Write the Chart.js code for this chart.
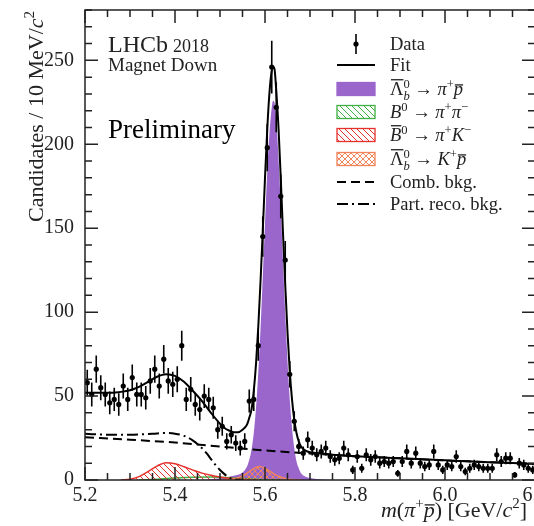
<!DOCTYPE html>
<html>
<head>
<meta charset="utf-8">
<script src="https://cdn.jsdelivr.net/npm/chart.js@4.4.1/dist/chart.umd.min.js"></script>
<style>
html, body { margin: 0; padding: 0; overflow: hidden; background: #fff; width: 534px; height: 526px; }
canvas { display: block; }
</style>
</head>
<body>
<canvas id="myChart" width="550" height="526"></canvas>
<script>
// bins de 10 MeV entre 5.2 e 6.2 GeV
var massBins = [];
for (var b = 0; b < 100; b++) massBins.push(Math.round((5.205 + 0.01 * b) * 1000) / 1000);

// contagens
var counts = [58, 51, 66, 55, 51, 46, 48, 45, 56, 48,
              61, 51, 51, 49, 59, 66, 56, 72, 59, 57,
              60, 80, 48, 54, 45, 42, 50, 48, 43, 30,
              32, 23, 27, 22, 19, 23, 47, 48, 80, 145,
              198, 246, 222, 169, 131, 63, 35, 20, 16, 24,
              19, 15, 17, 19, 14, 12, 13, 19, 15, 6,
              14, 7, 15, 12, 14, 10, 11, 10, 11, 4,
              11, 17, 10, 16, 10, 8, 9, 17, 9, 6,
              9, 8, 14, 8, 5, 7, 9, 8, 7, 7,
              7, 15, 11, 13, 13, 3, 10, 9, 7, 6];

// curva do fit total
var fitX = [5.20, 5.22, 5.24, 5.26, 5.28, 5.30, 5.32, 5.34, 5.36, 5.38, 5.40, 5.42, 5.44, 5.46, 5.48, 5.50, 5.51, 5.52, 5.53, 5.54, 5.55, 5.56, 5.565, 5.57, 5.575, 5.58, 5.585, 5.59, 5.595, 5.60, 5.605, 5.61, 5.615, 5.618, 5.621, 5.625, 5.63, 5.635, 5.64, 5.645, 5.65, 5.655, 5.66, 5.665, 5.67, 5.675, 5.68, 5.69, 5.70, 5.72, 5.75, 5.80, 5.85, 5.90, 5.95, 6.00, 6.05, 6.10, 6.15, 6.20];
var fitY = [52, 52, 52, 52, 52.5, 53.5, 55.5, 58.5, 61.5, 63, 62, 58.5, 53, 47, 40, 33.5, 31, 29.5, 28.5, 28.5, 30, 33, 37, 42, 53, 69, 91, 118, 148, 180, 209, 231, 244, 246, 245, 232, 210, 180, 147, 116, 88, 65, 48, 36, 28, 23, 20, 17.5, 16.5, 16, 15.1, 14.2, 13.5, 12.9, 12.3, 11.7, 11.1, 10.6, 10.1, 9.6];

// sinal Lambda_b -> pi p
var sigX = [5.46, 5.50, 5.53, 5.55, 5.56, 5.565, 5.57, 5.575, 5.58, 5.585, 5.59, 5.595, 5.60, 5.605, 5.61, 5.615, 5.618, 5.621, 5.625, 5.63, 5.635, 5.64, 5.645, 5.65, 5.655, 5.66, 5.665, 5.67, 5.675, 5.68, 5.69, 5.70, 5.72, 5.75];
var sigY = [0, 1, 2.5, 4.5, 8, 12, 18, 28, 43, 64, 90, 121, 153, 184, 207, 222, 226, 225, 214, 192, 163, 130, 99, 71, 48, 31, 19, 11, 7, 4, 2, 1.2, 0.5, 0];

// B0 -> pi pi
var pipiX = [5.32, 5.36, 5.40, 5.44, 5.48, 5.52, 5.56, 5.60, 5.64];
var pipiY = [0, 0.5, 1.2, 1.7, 1.8, 1.4, 0.7, 0.2, 0];

// B0bar -> pi K
var piKX = [5.28, 5.30, 5.32, 5.34, 5.36, 5.38, 5.40, 5.42, 5.44, 5.46, 5.48, 5.50, 5.52, 5.55, 5.58];
var piKY = [0, 0.4, 2, 5, 8.3, 10.3, 9.7, 7.9, 5.9, 4.1, 2.8, 1.8, 1.1, 0.5, 0];

// Lambda_b -> K p
var KpX = [5.50, 5.53, 5.55, 5.565, 5.575, 5.587, 5.60, 5.615, 5.63, 5.65, 5.68];
var KpY = [0, 0.6, 2.5, 5, 6.8, 8, 7, 4.5, 2.2, 0.6, 0];

// fundo combinatorio
var combX = [5.2, 5.3, 5.4, 5.5, 5.6, 5.7, 5.8, 5.9, 6.0, 6.1, 6.2];
var combY = [25.5, 24, 22.3, 19.9, 17.6, 15.8, 14.2, 12.9, 11.7, 10.6, 9.6];

// fundo parcialmente reconstruido
var partX = [5.2, 5.25, 5.3, 5.35, 5.38, 5.4, 5.42, 5.44, 5.46, 5.47, 5.48, 5.49, 5.50, 5.51, 5.52, 5.53, 5.55];
var partY = [27.5, 27, 27, 27.6, 28, 27.6, 26.3, 23.5, 19, 16, 12.5, 9, 6, 3.5, 1.5, 0.5, 0];

var xTicks = [5.2, 5.4, 5.6, 5.8, 6.0, 6.2];
var yTicks = [0, 50, 100, 150, 200, 250];

var serif = '"Liberation Serif", "DejaVu Serif", serif';
var roxo = '#9a66cc';
var verde = '#3fb043';
var vermelho = '#e5312c';
var laranja = '#f0845a';
var tracoComb = [9, 5];
var tracoPart = [11, 4, 2, 4];

var ctx = document.getElementById('myChart').getContext('2d');

//padroes de tracejado
function hatch(color, cross) {
    var c = document.createElement('canvas');
    c.width = 6; c.height = 6;
    var g = c.getContext('2d');
    g.strokeStyle = color;
    g.lineWidth = 1;
    g.beginPath();
    for (var k = -6; k <= 6; k += 6) {
        g.moveTo(k, 0); g.lineTo(k + 6, 6);
        if (cross) { g.moveTo(k, 6); g.lineTo(k + 6, 0); }
    }
    g.stroke();
    return ctx.createPattern(c, 'repeat');
}
var hVerde = hatch(verde, false);
var hVermelho = hatch(vermelho, false);
var hLaranja = hatch(laranja, true);

function pts(xs, ys) {
    return xs.map(function (x, i) { return { x: x, y: ys[i] }; });
}

//texto com indices e barras
function rich(g, x, y, parts, size, draw) {
    var cx = x, stackW = 0;
    parts.forEach(function (p) {
        var fs = (p.sup || p.sub) ? size * 0.68 : size;
        g.font = (p.it ? 'italic ' : '') + fs + 'px ' + serif;
        var w = g.measureText(p.t).width;
        var dy = p.sup ? -size * 0.4 : (p.sub ? size * 0.25 : 0);
        if (draw) {
            g.fillText(p.t, cx, y + dy);
            if (p.over) g.fillRect(cx + 1, y - p.over * size, w - 1, 1.3);
        }
        if (p.stack) { stackW = w; } else { cx += Math.max(w, stackW); stackW = 0; }
    });
    return cx - x;
}

var lambdaB = [{ t: 'Λ', over: 0.86 }, { t: '0', sup: 1, stack: 1 }, { t: 'b', sub: 1, it: 1 }, { t: ' → ' }];
var legenda = [
    { kind: 'data', parts: [{ t: 'Data' }] },
    { kind: 'fit', parts: [{ t: 'Fit' }] },
    { kind: 'box', fill: roxo, border: roxo, parts: lambdaB.concat([{ t: 'π', it: 1 }, { t: '+', sup: 1 }, { t: 'p', it: 1, over: 0.58 }]) },
    { kind: 'box', fill: hVerde, border: verde, parts: [{ t: 'B', it: 1 }, { t: '0', sup: 1 }, { t: ' → ' }, { t: 'π', it: 1 }, { t: '+', sup: 1 }, { t: 'π', it: 1 }, { t: '−', sup: 1 }] },
    { kind: 'box', fill: hVermelho, border: vermelho, parts: [{ t: 'B', it: 1, over: 0.86 }, { t: '0', sup: 1 }, { t: ' → ' }, { t: 'π', it: 1 }, { t: '+', sup: 1 }, { t: 'K', it: 1 }, { t: '−', sup: 1 }] },
    { kind: 'box', fill: hLaranja, border: laranja, parts: lambdaB.concat([{ t: 'K', it: 1 }, { t: '+', sup: 1 }, { t: 'p', it: 1, over: 0.58 }]) },
    { kind: 'dash', dash: tracoComb, parts: [{ t: 'Comb. bkg.' }] },
    { kind: 'dash', dash: tracoPart, parts: [{ t: 'Part. reco. bkg.' }] }
];
var legendaY = [44, 65, 89, 112, 135, 159, 182, 204];

//barras de erro dos dados
var errorBars = {
    id: 'errorBars',
    afterDatasetsDraw: function (chart) {
        var g = chart.ctx, xs = chart.scales.x, ys = chart.scales.y;
        g.save();
        g.strokeStyle = '#000';
        g.lineWidth = 1.6;
        g.beginPath();
        counts.forEach(function (n, i) {
            var px = xs.getPixelForValue(massBins[i]);
            var e = Math.sqrt(n);
            g.moveTo(px, ys.getPixelForValue(n - e));
            g.lineTo(px, ys.getPixelForValue(n + e));
        });
        g.stroke();
        g.restore();
    }
};

//moldura, ticks para dentro, textos e legenda
var moldura = {
    id: 'moldura',
    afterDraw: function (chart) {
        var g = chart.ctx, a = chart.chartArea, xs = chart.scales.x, ys = chart.scales.y;
        g.save();
        g.strokeStyle = '#222';
        g.lineWidth = 1.5;
        g.strokeRect(a.left, a.top, a.right - a.left, a.bottom - a.top);
        g.beginPath();
        for (var v = 0; v <= 280; v += 10) {
            var py = ys.getPixelForValue(v);
            var L = v % 50 === 0 ? 13 : 7;
            g.moveTo(a.left, py); g.lineTo(a.left + L, py);
            g.moveTo(a.right, py); g.lineTo(a.right - L, py);
        }
        for (var k = 0; k <= 20; k++) {
            var px = xs.getPixelForValue(5.2 + 0.05 * k);
            var Lx = k % 4 === 0 ? 13 : 7;
            g.moveTo(px, a.bottom); g.lineTo(px, a.bottom - Lx);
            g.moveTo(px, a.top); g.lineTo(px, a.top + Lx);
        }
        g.stroke();

        g.fillStyle = '#222';
        g.textBaseline = 'alphabetic';
        g.font = '24px ' + serif;
        g.fillText('LHCb', 108, 52);
        g.font = '18px ' + serif;
        g.fillText('2018', 173, 52);
        g.font = '19px ' + serif;
        g.fillText('Magnet Down', 108, 71);
        g.fillStyle = '#000';
        g.font = '27px ' + serif;
        g.fillText('Preliminary', 108, 138);

        // titulo do eixo x
        var xt = [{ t: 'm', it: 1 }, { t: '(' }, { t: 'π', it: 1 }, { t: '+', sup: 1 }, { t: 'p', it: 1, over: 0.58 }, { t: ') [GeV/' }, { t: 'c', it: 1 }, { t: '2', sup: 1 }, { t: ']' }];
        g.fillStyle = '#222';
        var wx = rich(g, 0, 0, xt, 22, false);
        rich(g, 527 - wx, 517, xt, 22, true);

        // titulo do eixo y
        var yt = [{ t: 'Candidates / 10 MeV/' }, { t: 'c', it: 1 }, { t: '2', sup: 1 }];
        var wy = rich(g, 0, 0, yt, 22, false);
        g.save();
        g.translate(43, 11 + wy);
        g.rotate(-Math.PI / 2);
        rich(g, 0, 0, yt, 22, true);
        g.restore();

        // legenda
        legenda.forEach(function (it, i) {
            var cy = legendaY[i];
            g.save();
            if (it.kind === 'data') {
                g.strokeStyle = '#000'; g.lineWidth = 1.6;
                g.beginPath(); g.moveTo(356, cy - 10); g.lineTo(356, cy + 10); g.stroke();
                g.fillStyle = '#000';
                g.beginPath(); g.arc(356, cy, 2.6, 0, 2 * Math.PI); g.fill();
            } else if (it.kind === 'fit') {
                g.strokeStyle = '#000'; g.lineWidth = 2;
                g.beginPath(); g.moveTo(337, cy); g.lineTo(375, cy); g.stroke();
            } else if (it.kind === 'box') {
                g.fillStyle = it.fill;
                g.fillRect(337, cy - 6.5, 38, 13);
                g.strokeStyle = it.border; g.lineWidth = 1.3;
                g.strokeRect(337, cy - 6.5, 38, 13);
            } else {
                g.strokeStyle = '#000'; g.lineWidth = 2;
                g.setLineDash(it.dash);
                g.beginPath(); g.moveTo(337, cy); g.lineTo(375, cy); g.stroke();
            }
            g.restore();
            g.fillStyle = '#222';
            rich(g, 390, cy + 6, it.parts, 18.5, true);
        });
        g.restore();
    }
};

var myChart = new Chart(ctx, {
    type: 'line',
    data: {
        datasets: [{
            label: 'Data',
            type: 'scatter',
            data: pts(massBins, counts),
            pointRadius: 2.6,
            pointBackgroundColor: '#000',
            pointBorderWidth: 0,
            showLine: false,
            order: 0
        }, {
            label: 'Fit',
            data: pts(fitX, fitY),
            borderColor: '#000',
            borderWidth: 2,
            pointRadius: 0,
            cubicInterpolationMode: 'monotone',
            fill: false,
            order: 1
        }, {
            label: 'Comb. bkg.',
            data: pts(combX, combY),
            borderColor: '#000',
            borderWidth: 2,
            borderDash: tracoComb,
            pointRadius: 0,
            cubicInterpolationMode: 'monotone',
            fill: false,
            order: 2
        }, {
            label: 'Part. reco. bkg.',
            data: pts(partX, partY),
            borderColor: '#000',
            borderWidth: 2,
            borderDash: tracoPart,
            pointRadius: 0,
            cubicInterpolationMode: 'monotone',
            fill: false,
            order: 3
        }, {
            label: 'Lb -> K p',
            data: pts(KpX, KpY),
            borderColor: laranja,
            borderWidth: 1.5,
            backgroundColor: hLaranja,
            pointRadius: 0,
            cubicInterpolationMode: 'monotone',
            fill: 'origin',
            order: 4
        }, {
            label: 'B0bar -> pi K',
            data: pts(piKX, piKY),
            borderColor: vermelho,
            borderWidth: 1.5,
            backgroundColor: hVermelho,
            pointRadius: 0,
            cubicInterpolationMode: 'monotone',
            fill: 'origin',
            order: 5
        }, {
            label: 'B0 -> pi pi',
            data: pts(pipiX, pipiY),
            borderColor: verde,
            borderWidth: 1.5,
            backgroundColor: hVerde,
            pointRadius: 0,
            cubicInterpolationMode: 'monotone',
            fill: 'origin',
            order: 6
        }, {
            label: 'Lb -> pi p',
            data: pts(sigX, sigY),
            borderColor: roxo,
            borderWidth: 0,
            backgroundColor: roxo,
            pointRadius: 0,
            cubicInterpolationMode: 'monotone',
            fill: 'origin',
            order: 7
        }]
    },
    options: {
        responsive: false,
        animation: false,
        devicePixelRatio: 1,
        layout: { padding: { left: 0, right: 15, top: 10, bottom: 0 } },
        plugins: { legend: { display: false }, tooltip: { enabled: false } },
        scales: {
            x: {
                type: 'linear',
                min: 5.2,
                max: 6.2,
                afterBuildTicks: function (s) { s.ticks = xTicks.map(function (v) { return { value: v }; }); },
                afterFit: function (s) { s.height = 46; s.paddingLeft = 0; s.paddingRight = 0; },
                grid: { display: false, drawTicks: false },
                border: { display: false },
                ticks: {
                    padding: 4,
                    color: '#222',
                    maxRotation: 0,
                    autoSkip: false,
                    font: { family: serif, size: 20 },
                    callback: function (v) { return v.toFixed(1); }
                }
            },
            y: {
                min: 0,
                max: 280,
                afterBuildTicks: function (s) { s.ticks = yTicks.map(function (v) { return { value: v }; }); },
                afterFit: function (s) { s.width = 85; s.paddingTop = 0; s.paddingBottom = 0; },
                grid: { display: false, drawTicks: false },
                border: { display: false },
                ticks: {
                    padding: 11,
                    color: '#222',
                    font: { family: serif, size: 20 }
                }
            }
        }
    },
    plugins: [errorBars, moldura]
});
</script>
</body>
</html>
